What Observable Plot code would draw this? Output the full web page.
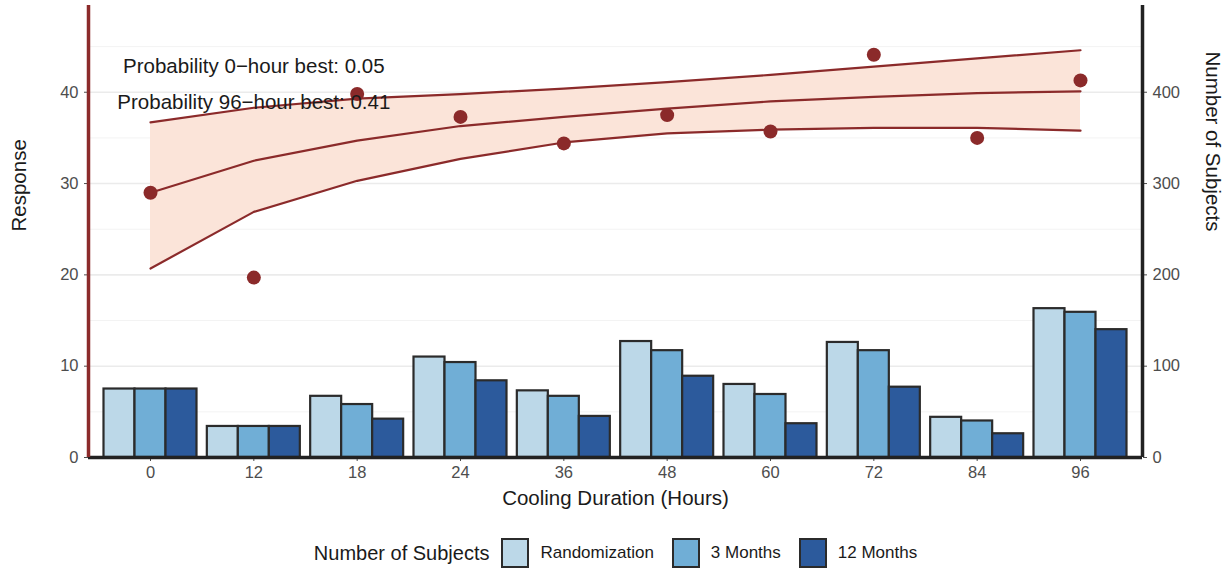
<!DOCTYPE html>
<html>
<head>
<meta charset="utf-8">
<script src="https://cdn.jsdelivr.net/npm/d3@7"></script>
<script src="https://cdn.jsdelivr.net/npm/@observablehq/plot@0.6"></script>
<style>
  html, body { margin: 0; padding: 0; background: #fff; }
  body { width: 1229px; height: 570px; overflow: hidden; font-family: "Liberation Sans", Arial, sans-serif; }
  #legend { position: absolute; left: 10px; top: 538px; width: 1229px; display: flex; align-items: center; justify-content: center; color: #1a1a1a; }
  #legend .title { font-size: 20px; margin-right: 12px; }
  #legend .sw { width: 28px; height: 30px; border: 2px solid #2b2b2b; box-sizing: border-box; margin-right: 11px; }
  #legend .lab { font-size: 17px; margin-right: 18px; color: #1a1a1a; }
</style>
</head>
<body>
<div id="chart"></div>
<div id="legend"></div>
<script>
// Categories (cooling duration, hours)
const categories = ["0", "12", "18", "24", "36", "48", "60", "72", "84", "96"];
// Observed response (points)
const observed = [29.0, 19.7, 39.8, 37.3, 34.4, 37.5, 35.7, 44.1, 35.0, 41.3];
// Fitted curve and band
const fitMid   = [29.0, 32.5, 34.7, 36.3, 37.3, 38.2, 39.0, 39.5, 39.9, 40.1];
const fitUpper = [36.7, 38.3, 39.3, 39.8, 40.4, 41.1, 41.9, 42.8, 43.7, 44.6];
const fitLower = [20.7, 26.9, 30.3, 32.7, 34.5, 35.5, 35.9, 36.1, 36.1, 35.8];
// Number of subjects (right axis)
const groups = ["Randomization", "3 Months", "12 Months"];
const nRandomization = [75, 34, 67, 110, 73, 127, 80, 126, 44, 163];
const n3Months       = [75, 34, 58, 104, 67, 117, 69, 117, 40, 159];
const n12Months      = [75, 34, 42, 84, 45, 89, 37, 77, 26, 140];
// Annotations
const annotations = [
  {text: "Probability 0\u2212hour best: 0.05", cat: "12", y: 42.8},
  {text: "Probability 96\u2212hour best: 0.41", cat: "12", y: 38.9}
];
const groupColors = ["#bcd8e8", "#70aed6", "#2c5a9c"];
const red = "#8b2a2a";
const scaleFactor = 10; // right axis = left axis * 10

const idx = c => categories.indexOf(c);
const fitRows = categories.map((c, i) => ({i, mid: fitMid[i], lo: fitLower[i], hi: fitUpper[i], obs: observed[i]}));
const groupSeries = [nRandomization, n3Months, n12Months];
const dodge = 0.9;
const bw = dodge / groups.length;
const barRows = [];
groupSeries.forEach((arr, g) => arr.forEach((v, i) => {
  barRows.push({i, g, group: groups[g], n: v,
    x1: i - dodge / 2 + g * bw, x2: i - dodge / 2 + (g + 1) * bw});
}));

const majorTicks = [0, 10, 20, 30, 40];
const minorTicks = [5, 15, 25, 35, 45];

const chart = Plot.plot({
  width: 1229,
  height: 520,
  marginLeft: 88,
  marginRight: 87,
  marginTop: 5,
  marginBottom: 63,
  style: {fontFamily: "Liberation Sans, Arial, sans-serif", background: "#fff"},
  x: {domain: [-0.6, categories.length - 1 + 0.6], axis: null},
  y: {domain: [0, 49.5], axis: null},
  color: {domain: groups, range: groupColors},
  marks: [
    Plot.gridY(minorTicks, {stroke: "#f3f3f3", strokeOpacity: 1, strokeWidth: 1}),
    Plot.gridY(majorTicks, {stroke: "#ebebeb", strokeOpacity: 1, strokeWidth: 1.6}),
    Plot.areaY(fitRows, {x: "i", y1: "lo", y2: "hi", fill: "#fbe4d9", fillOpacity: 1}),
    Plot.line(fitRows, {x: "i", y: "hi", stroke: red, strokeWidth: 2.2}),
    Plot.line(fitRows, {x: "i", y: "mid", stroke: red, strokeWidth: 2.2}),
    Plot.line(fitRows, {x: "i", y: "lo", stroke: red, strokeWidth: 2.2}),
    Plot.rect(barRows, {x1: "x1", x2: "x2", y1: 0, y2: d => d.n / scaleFactor, fill: "group", stroke: "#2b2b2b", strokeWidth: 2.2}),
    Plot.dot(fitRows, {x: "i", y: "obs", r: 7, fill: red, stroke: "none"}),
    Plot.text(annotations, {x: d => idx(d.cat), y: "y", text: "text", fontSize: 20.5, fill: "#1a1a1a"}),
    // left axis
    Plot.axisY(majorTicks, {anchor: "left", tickSize: 4, tickPadding: 6, fontSize: 16.5, color: "#4d4d4d", stroke: "#4d4d4d", label: null}),
    // right axis (Number of Subjects)
    Plot.axisY(majorTicks, {anchor: "right", tickSize: 4, tickPadding: 6, fontSize: 16.5, color: "#4d4d4d", stroke: "#4d4d4d", tickFormat: d => d * scaleFactor, label: null}),
    // bottom axis
    Plot.axisX(categories.map((c, i) => i), {anchor: "bottom", tickSize: 4, tickPadding: 5, fontSize: 16.5, color: "#4d4d4d", stroke: "#4d4d4d", tickFormat: i => categories[i], label: null}),
    Plot.ruleY([0], {stroke: "#222", strokeWidth: 3.5}),
    Plot.ruleX([-0.6], {stroke: red, strokeWidth: 3.5}),
    Plot.ruleX([categories.length - 1 + 0.6], {stroke: "#222", strokeWidth: 3.5}),
    // axis titles
    Plot.text(["Response"], {frameAnchor: "left", dx: -69, rotate: -90, fontSize: 20.5, fill: "#1a1a1a"}),
    Plot.text(["Number of Subjects"], {frameAnchor: "right", dx: 70, rotate: 90, fontSize: 20.5, fill: "#1a1a1a"}),
    Plot.text(["Cooling Duration (Hours)"], {frameAnchor: "bottom", dy: 47, fontSize: 20.5, fill: "#1a1a1a"})
  ]
});
document.getElementById("chart").appendChild(chart);

const legend = document.getElementById("legend");
const t = document.createElement("span");
t.className = "title"; t.textContent = "Number of Subjects";
legend.appendChild(t);
groups.forEach((g, k) => {
  const sw = document.createElement("span");
  sw.className = "sw"; sw.style.background = groupColors[k];
  legend.appendChild(sw);
  const l = document.createElement("span");
  l.className = "lab"; l.textContent = g;
  legend.appendChild(l);
});
</script>
</body>
</html>
